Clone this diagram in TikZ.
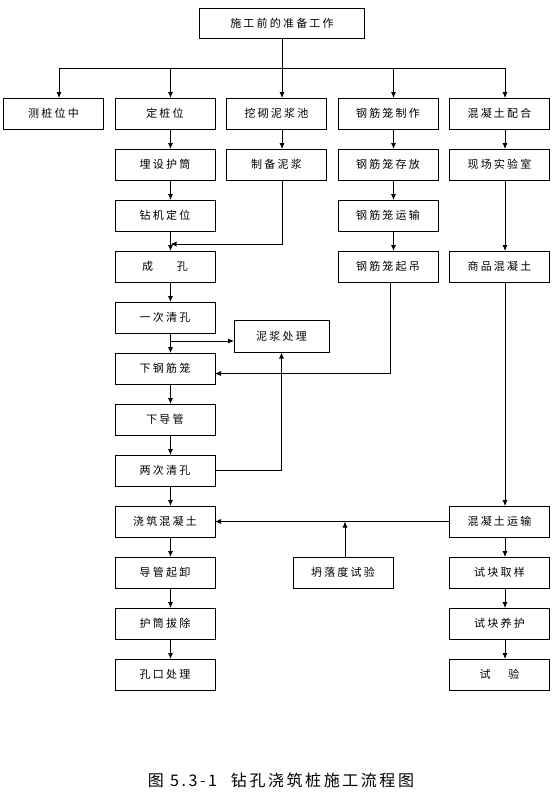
\documentclass[tikz,border=0pt]{standalone}
\usepackage{fontspec}
\newfontfamily\boxfont[LetterSpace=20]{Noto Sans CJK SC}
\newfontfamily\capfont[LetterSpace=16]{Noto Sans CJK SC}
\usepackage{tikz}
\usetikzlibrary{arrows.meta,positioning,calc}
\tikzset{
  stepbox/.style={
    rectangle, draw=black, line width=0.8pt, outer sep=0pt,
    minimum width=100pt, minimum height=31pt,
    align=center, font=\boxfont\fontsize{11}{13}\selectfont, inner sep=2pt
  },
  flowarrow/.style={-{Latex[length=6pt,width=5pt]}, line width=0.8pt, draw=black},
  flowline/.style={line width=0.8pt, draw=black},
  captext/.style={font=\capfont\fontsize{16}{18}\selectfont, inner sep=0pt},
}

\begin{document}
\begin{tikzpicture}[x=1pt, y=1pt, node distance=20pt and 11.5pt]
  \useasboundingbox (0,0) rectangle (556,-796);
  \node (a1) [stepbox] at (53.5,-113.5) {测桩位中};
  \node (b1) [stepbox, right=of a1] {定桩位};
  \node (c1) [stepbox, right=of b1] {挖砌泥浆池};
  \node (d1) [stepbox, right=of c1] {钢筋笼制作};
  \node (e1) [stepbox, right=of d1] {混凝土配合};
  \node (n0) [stepbox, minimum width=165pt, minimum height=30pt, above=60pt of c1, xshift=5.5pt] {施工前的准备工作};
  \node (b2) [stepbox, below=of b1] {埋设护筒};
  \node (b3) [stepbox, below=of b2] {钻机定位};
  \node (b4) [stepbox, below=of b3] {成\hspace{24pt}孔};
  \node (b5) [stepbox, below=of b4] {一次清孔};
  \node (b6) [stepbox, below=of b5] {下钢筋笼};
  \node (b7) [stepbox, below=of b6] {下导管};
  \node (b8) [stepbox, below=of b7] {两次清孔};
  \node (b9) [stepbox, below=of b8] {浇筑混凝土};
  \node (b10) [stepbox, below=of b9] {导管起卸};
  \node (b11) [stepbox, below=of b10] {护筒拔除};
  \node (b12) [stepbox, below=of b11] {孔口处理};
  \node (c2) [stepbox, below=of c1] {制备泥浆};
  \node (d2) [stepbox, below=of d1] {钢筋笼存放};
  \node (d3) [stepbox, below=of d2] {钢筋笼运输};
  \node (d4) [stepbox, below=of d3] {钢筋笼起吊};
  \node (e2) [stepbox, below=of e1] {现场实验室};
  \node (e4) [stepbox, right=of d4] {商品混凝土};
  \node (e9) [stepbox] at (e1 |- b9) {混凝土运输};
  \node (e10) [stepbox, below=of e9] {试块取样};
  \node (e11) [stepbox, below=of e10] {试块养护};
  \node (e12) [stepbox, below=of e11] {试\hspace{18pt}验};
  \node (mud) [stepbox, minimum width=95pt, minimum height=32pt, anchor=west] at ([xshift=19pt,yshift=-19pt]b5.east) {泥浆处理};
  \node (slump) [stepbox, right=78pt of b10] {坍落度试验};
  \node (cap) [captext] at (281,-780) {图 5.3-1\hspace{14pt}钻孔浇筑桩施工流程图};
  \draw[flowline] (n0.south) -- ++(0,-30) coordinate (bus);
  \foreach \n in {a1,b1,c1,d1,e1} \draw[flowarrow] (bus) -| ([xshift=5.5pt]\n.north);
  \foreach \u/\v in {b1/b2,b2/b3,b3/b4,b4/b5,b5/b6,b6/b7,b7/b8,b8/b9,b9/b10,b10/b11,b11/b12,c1/c2,d1/d2,d2/d3,d3/d4,e1/e2,e2/e4,e4/e9,e9/e10,e10/e11,e11/e12}
    \draw[flowarrow] ([xshift=5.5pt]\u.south) -- ([xshift=5.5pt]\v.north);
  \draw[flowarrow] ([xshift=5.5pt]c2.south) |- ([xshift=5.5pt,yshift=-13pt]b3.south);
  \coordinate (j2) at ([xshift=5.5pt,yshift=-8pt]b5.south);
  \draw[flowarrow] (j2) -- (j2 -| mud.west);
  \draw[flowarrow] ([xshift=2pt]d4.south) |- ([yshift=-5pt]b6.east);
  \draw[flowarrow] (b8.east) -| (mud.south);
  \draw[flowarrow] (e9.west) -- (b9.east);
  \draw[flowarrow] ([xshift=2pt]slump.north) -- ([xshift=2pt]slump.north |- b9.east);
\end{tikzpicture}
\end{document}
